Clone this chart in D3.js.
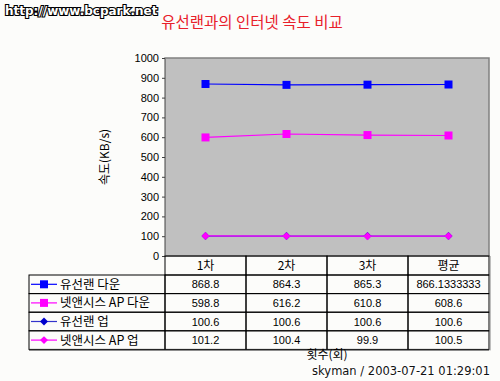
<!DOCTYPE html>
<html>
<head>
<meta charset="utf-8">
<script src="https://cdn.jsdelivr.net/npm/d3@7"></script>
<style>
  body { margin: 0; background: #fcfcfa; }
  text { font-family: "Noto Sans CJK KR", "DejaVu Sans", sans-serif; }
</style>
</head>
<body>
<svg id="chart" width="500" height="381"></svg>
<script>
// chart data
const categories = ['1차', '2차', '3차', '평균'];
const seriesNames = ['유선랜 다운', '넷앤시스 AP 다운', '유선랜 업', '넷앤시스 AP 업'];
const lanDown = [868.8, 864.3, 865.3, 866.1333333];
const apDown = [598.8, 616.2, 610.8, 608.6];
const lanUp = [100.6, 100.6, 100.6, 100.6];
const apUp = [101.2, 100.4, 99.9, 100.5];
const cellText = [
  ['868.8', '864.3', '865.3', '866.1333333'],
  ['598.8', '616.2', '610.8', '608.6'],
  ['100.6', '100.6', '100.6', '100.6'],
  ['101.2', '100.4', '99.9', '100.5']
];
const yTicks = [0, 100, 200, 300, 400, 500, 600, 700, 800, 900, 1000];

const series = [
  { name: seriesNames[0], values: lanDown, line: '#0000ff', fill: '#0000ff', shape: 'square' },
  { name: seriesNames[1], values: apDown, line: '#ff00ff', fill: '#ff00ff', shape: 'square' },
  { name: seriesNames[2], values: lanUp, line: '#3333cc', fill: '#0000cc', shape: 'diamond' },
  { name: seriesNames[3], values: apUp, line: '#ff00ff', fill: '#ff00ff', shape: 'diamond' }
];

const svg = d3.select('#chart');
const plot = { left: 165, right: 489, top: 58, bottom: 256 };
const rowH = 18.6;
const headerH = 19;
const legendLeft = 29;

const x = d3.scaleBand().domain(categories).range([plot.left, plot.right]);
const y = d3.scaleLinear().domain([0, 1000]).range([plot.bottom, plot.top]);

// plot area
svg.append('rect')
  .attr('x', plot.left).attr('y', plot.top)
  .attr('width', plot.right - plot.left).attr('height', plot.bottom - plot.top)
  .attr('fill', '#c0c0c0').attr('stroke', '#808080').attr('stroke-width', 1.5);

// y axis
const yAxis = d3.axisLeft(y).tickValues(yTicks).tickFormat(d3.format('d')).tickSize(3).tickPadding(3);
const gy = svg.append('g').attr('transform', `translate(${plot.left},0)`).call(yAxis);
gy.select('.domain').attr('stroke', '#808080');
gy.selectAll('.tick line').attr('stroke', '#404040');
gy.selectAll('.tick text').attr('font-size', 11).attr('fill', '#000')
  .style('font-family', 'Arial, "Liberation Sans", sans-serif');

// lines and markers
const line = d3.line().x((d, i) => x(categories[i]) + x.bandwidth() / 2).y(d => y(d));
const symSquare = d3.symbol().type(d3.symbolSquare).size(64);
const symDiamond = d3.symbol().type(d3.symbolDiamond2).size(40);

series.forEach(s => {
  svg.append('path').attr('d', line(s.values))
    .attr('fill', 'none').attr('stroke', s.line).attr('stroke-width', 1.2);
  svg.append('g').selectAll('path').data(s.values).enter().append('path')
    .attr('transform', (d, i) => `translate(${x(categories[i]) + x.bandwidth() / 2},${y(d)})`)
    .attr('d', s.shape === 'square' ? symSquare : symDiamond)
    .attr('fill', s.fill);
});

// data table
const table = svg.append('g');
const tableBottom = plot.bottom + headerH + rowH * 4;

// header cells
categories.forEach(c => {
  table.append('rect')
    .attr('x', x(c)).attr('y', plot.bottom)
    .attr('width', x.bandwidth()).attr('height', headerH)
    .attr('fill', 'none').attr('stroke', '#000').attr('stroke-width', 1);
  table.append('text')
    .attr('x', x(c) + x.bandwidth() / 2).attr('y', plot.bottom + headerH / 2 + 4.5)
    .attr('text-anchor', 'middle').attr('font-size', 12).text(c);
});

// body rows
series.forEach((s, r) => {
  const ry = plot.bottom + headerH + r * rowH;
  table.append('rect')
    .attr('x', legendLeft).attr('y', ry)
    .attr('width', plot.left - legendLeft).attr('height', rowH)
    .attr('fill', 'none').attr('stroke', '#000').attr('stroke-width', 1);
  const cy = ry + rowH / 2;
  table.append('line')
    .attr('x1', legendLeft + 2).attr('x2', legendLeft + 28)
    .attr('y1', cy).attr('y2', cy)
    .attr('stroke', s.line).attr('stroke-width', 1.2);
  table.append('path')
    .attr('transform', `translate(${legendLeft + 15},${cy})`)
    .attr('d', s.shape === 'square' ? symSquare : symDiamond)
    .attr('fill', s.fill);
  table.append('text')
    .attr('x', legendLeft + 31).attr('y', cy + 4.5)
    .attr('font-size', 12.5).text(s.name);
  categories.forEach((c, j) => {
    table.append('rect')
      .attr('x', x(c)).attr('y', ry)
      .attr('width', x.bandwidth()).attr('height', rowH)
      .attr('fill', 'none').attr('stroke', '#000').attr('stroke-width', 1);
    table.append('text')
      .attr('x', x(c) + x.bandwidth() / 2).attr('y', cy + 4)
      .attr('text-anchor', 'middle').attr('font-size', 11)
      .style('font-family', 'Arial, "Liberation Sans", sans-serif')
      .text(cellText[r][j]);
  });
});
// shadow lines on table edge
table.append('line')
  .attr('x1', legendLeft).attr('x2', plot.right)
  .attr('y1', tableBottom + 1).attr('y2', tableBottom + 1)
  .attr('stroke', '#808080');
table.append('line')
  .attr('x1', plot.right + 1).attr('x2', plot.right + 1)
  .attr('y1', plot.bottom).attr('y2', tableBottom + 1)
  .attr('stroke', '#808080');

// titles
svg.append('text')
  .attr('x', 252).attr('y', 28)
  .attr('text-anchor', 'middle').attr('font-size', 15.5)
  .attr('fill', '#e8202a').text('유선랜과의 인터넷 속도 비교');

svg.append('text')
  .attr('transform', `translate(109,${(plot.top + plot.bottom) / 2}) rotate(-90)`)
  .attr('text-anchor', 'middle').attr('font-size', 12).text('속도(KB/s)');

svg.append('text')
  .attr('x', 327).attr('y', 359)
  .attr('text-anchor', 'middle').attr('font-size', 12).text('횟수(회)');

// watermark texts
svg.append('text')
  .attr('x', 5).attr('y', 15)
  .attr('font-size', 12).attr('font-weight', 'bold')
  .style('font-family', '"DejaVu Sans", sans-serif')
  .attr('fill', '#fff').attr('stroke', '#000').attr('stroke-width', 2.2)
  .attr('paint-order', 'stroke').text('http://www.bcpark.net');

svg.append('text')
  .attr('x', 490).attr('y', 375)
  .attr('text-anchor', 'end').attr('font-size', 11.5)
  .style('font-family', '"DejaVu Sans", sans-serif')
  .attr('fill', '#111').attr('stroke', '#fff').attr('stroke-width', 2)
  .attr('paint-order', 'stroke').text('skyman / 2003-07-21 01:29:01');
</script>
</body>
</html>
